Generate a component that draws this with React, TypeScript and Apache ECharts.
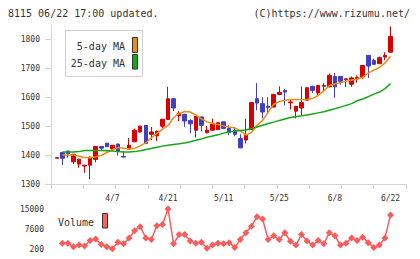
import React, { useEffect, useRef } from "react";
import * as echarts from "echarts";

const dates = [
  "3/24", "3/25", "3/28", "3/29", "3/30", "3/31", "4/1", "4/4", "4/5", "4/6",
  "4/7", "4/8", "4/11", "4/12", "4/13", "4/14", "4/15", "4/18", "4/19", "4/20",
  "4/21", "4/22", "4/25", "4/26", "4/27", "4/28", "5/2", "5/6", "5/9", "5/10",
  "5/11", "5/12", "5/13", "5/16", "5/17", "5/18", "5/19", "5/20", "5/23", "5/24",
  "5/25", "5/26", "5/27", "5/30", "5/31", "6/1", "6/2", "6/3", "6/6", "6/7",
  "6/8", "6/9", "6/10", "6/13", "6/14", "6/15", "6/16", "6/17", "6/20", "6/21",
  "6/22",
];

const dateLabels = ["4/7", "4/21", "5/11", "5/25", "6/8", "6/22"];

// [open, close, low, high]
const candles = [
  [1389, 1391, 1389, 1391],
  [1409, 1389, 1366, 1410],
  [1414, 1405, 1391, 1415],
  [1377, 1403, 1369, 1404],
  [1369, 1386, 1356, 1387],
  [1362, 1365, 1339, 1366],
  [1365, 1393, 1317, 1394],
  [1385, 1430, 1375, 1431],
  [1430, 1424, 1416, 1431],
  [1441, 1429, 1428, 1442],
  [1421, 1434, 1420, 1435],
  [1438, 1414, 1398, 1440],
  [1395, 1393, 1393, 1414],
  [1421, 1434, 1420, 1459],
  [1446, 1486, 1445, 1492],
  [1480, 1500, 1478, 1502],
  [1503, 1440, 1438, 1504],
  [1472, 1480, 1452, 1497],
  [1467, 1483, 1449, 1484],
  [1500, 1524, 1494, 1525],
  [1523, 1595, 1522, 1636],
  [1595, 1563, 1552, 1597],
  [1536, 1544, 1517, 1552],
  [1541, 1518, 1498, 1543],
  [1520, 1508, 1475, 1524],
  [1486, 1534, 1461, 1536],
  [1532, 1503, 1483, 1534],
  [1477, 1486, 1476, 1501],
  [1486, 1507, 1485, 1526],
  [1488, 1512, 1487, 1514],
  [1515, 1492, 1490, 1516],
  [1492, 1478, 1469, 1503],
  [1486, 1472, 1465, 1497],
  [1457, 1425, 1424, 1472],
  [1452, 1469, 1440, 1526],
  [1488, 1582, 1487, 1583],
  [1595, 1580, 1555, 1649],
  [1578, 1549, 1527, 1600],
  [1569, 1564, 1544, 1600],
  [1566, 1610, 1565, 1612],
  [1610, 1617, 1607, 1638],
  [1624, 1618, 1572, 1628],
  [1581, 1584, 1558, 1592],
  [1552, 1569, 1527, 1570],
  [1563, 1582, 1538, 1638],
  [1590, 1633, 1589, 1635],
  [1638, 1624, 1615, 1639],
  [1615, 1641, 1607, 1642],
  [1638, 1641, 1621, 1649],
  [1636, 1676, 1635, 1682],
  [1672, 1636, 1598, 1684],
  [1672, 1655, 1644, 1673],
  [1661, 1664, 1636, 1665],
  [1645, 1667, 1636, 1672],
  [1664, 1668, 1651, 1676],
  [1670, 1710, 1664, 1711],
  [1745, 1708, 1667, 1746],
  [1727, 1714, 1713, 1733],
  [1716, 1737, 1715, 1741],
  [1739, 1745, 1728, 1756],
  [1756, 1810, 1755, 1845],
];

const ma5 = [
  null, 1400, 1400, 1400, 1396, 1392, 1391, 1394, 1399, 1409,
  1419, 1426, 1424, 1421, 1423, 1432, 1442, 1460, 1475, 1490,
  1502, 1530, 1544, 1551, 1549, 1538, 1525, 1515, 1509, 1506,
  1501, 1497, 1494, 1484, 1469, 1478, 1503, 1520, 1548, 1576,
  1585, 1590, 1592, 1592, 1591, 1592, 1596, 1606, 1622, 1641,
  1646, 1651, 1655, 1660, 1662, 1670, 1684, 1694, 1703, 1718,
  1742,
];

const ma25 = [
  null, 1411, 1411, 1411, 1412, 1416, 1416, 1416, 1416, 1415,
  1414, 1412, 1411, 1411, 1412, 1415, 1419, 1423, 1427, 1431,
  1434, 1437, 1439, 1442, 1446, 1451, 1456, 1462, 1466, 1470,
  1476, 1480, 1483, 1485, 1487, 1492, 1497, 1503, 1509, 1514,
  1520, 1525, 1530, 1533, 1536, 1539, 1542, 1546, 1550, 1555,
  1560, 1566, 1572, 1578, 1588, 1594, 1602, 1611, 1618, 1630,
  1647,
];

const volume = [
  null, 2300, 2300, 1050, 1650, 1300, 3300, 3900, 1900, 1050,
  300, 2700, 2100, 4300, 6970, 8450, 4300, 3700, 8800, 9300,
  15000, 2100, 5600, 5600, 3200, 2300, 2700, 450, 1650, 2300,
  2100, 2550, 800, 3700, 6200, 8650, 12150, 11300, 3700, 5100,
  3700, 6200, 3050, 1650, 5600, 3200, 1650, 3300, 2100, 6200,
  5100, 1650, 2300, 4300, 3300, 4550, 2550, 800, 1650, 4300,
  12800,
];

const priceTicks = [1300, 1400, 1500, 1600, 1700, 1800];

const MONO = '"DejaVu Sans Mono", monospace';
const AX = "#d4d4d4";
const RED = "#d80000";
const BLUE = "#3f3fbf";
const ORANGE = "#f08a12";
const GREEN = "#14a814";
const VOL = "#fa5c5c";
const TXT = "#333333";

export default function App() {
  const ref = useRef<HTMLDivElement>(null);
  useEffect(() => {
    if (!ref.current) return;
    const chart = echarts.init(ref.current, undefined, { renderer: "svg" });
    const option: any = {
      animation: false,
      backgroundColor: "#ffffff",
      grid: [
        { left: 51, top: 25, width: 355, height: 159 },
        { left: 54, top: 25, width: 339.3, height: 159 },
        { left: 54, top: 209, width: 339.3, height: 40 },
      ],
      xAxis: [
        {
          gridIndex: 0,
          type: "value",
          min: 0,
          max: 11,
          interval: 1,
          axisLine: { show: true, lineStyle: { color: AX, width: 1 } },
          axisTick: { show: true, length: 5, lineStyle: { color: AX } },
          axisLabel: { show: false },
          splitLine: { show: false },
        },
        {
          gridIndex: 1,
          type: "category",
          data: dates,
          boundaryGap: true,
          axisLine: { show: false },
          axisTick: { show: false },
          splitLine: { show: false },
          axisLabel: {
            interval: (_i: number, v: string) => dateLabels.includes(v),
            margin: 10,
            fontFamily: MONO,
            fontSize: 8,
            color: TXT,
          },
        },
        {
          gridIndex: 2,
          type: "category",
          data: dates,
          boundaryGap: true,
          show: false,
        },
      ],
      yAxis: [
        {
          gridIndex: 0,
          type: "value",
          min: 1300,
          max: 1850,
          axisLine: { show: true, lineStyle: { color: AX, width: 1 } },
          axisTick: {
            show: true,
            length: 6,
            customValues: priceTicks,
            lineStyle: { color: AX },
          },
          axisLabel: {
            customValues: priceTicks,
            margin: 11,
            fontFamily: MONO,
            fontSize: 8,
            color: TXT,
            formatter: (v: number) => (v % 100 === 0 && v <= 1800 ? String(v) : ""),
          },
          splitLine: { show: false },
        },
        { gridIndex: 1, type: "value", min: 1300, max: 1850, show: false },
        {
          gridIndex: 2,
          type: "value",
          min: 200,
          max: 15000,
          interval: 7400,
          axisLine: { show: false },
          axisTick: { show: false },
          splitLine: { show: false },
          axisLabel: {
            margin: 10,
            fontFamily: MONO,
            fontSize: 8,
            color: TXT,
            formatter: (v: number) => String(v),
          },
        },
      ],
      series: [
        {
          type: "candlestick",
          xAxisIndex: 1,
          yAxisIndex: 1,
          data: candles,
          barWidth: 4,
          itemStyle: {
            color: RED,
            color0: BLUE,
            borderColor: RED,
            borderColor0: BLUE,
            borderWidth: 1,
          },
        },
        {
          type: "line",
          xAxisIndex: 1,
          yAxisIndex: 1,
          data: ma5,
          showSymbol: false,
          lineStyle: { color: ORANGE, width: 1.5 },
          z: 3,
        },
        {
          type: "line",
          xAxisIndex: 1,
          yAxisIndex: 1,
          data: ma25,
          showSymbol: false,
          lineStyle: { color: GREEN, width: 1.5 },
          z: 3,
        },
        {
          type: "line",
          xAxisIndex: 2,
          yAxisIndex: 2,
          data: volume,
          symbol: "diamond",
          symbolSize: 7,
          showSymbol: true,
          showAllSymbol: true,
          lineStyle: { color: VOL, width: 1.5 },
          itemStyle: { color: VOL },
        },
      ],
      graphic: [
        {
          type: "text",
          x: 8,
          y: 13,
          style: {
            text: "8115 06/22 17:00 updated.",
            fontFamily: MONO,
            fontSize: 10,
            fill: TXT,
            align: "left",
            verticalAlign: "middle",
          },
        },
        {
          type: "text",
          x: 410,
          y: 13,
          style: {
            text: "(C)https://www.rizumu.net/",
            fontFamily: MONO,
            fontSize: 10,
            fill: TXT,
            align: "right",
            verticalAlign: "middle",
          },
        },
        {
          type: "rect",
          shape: { x: 65.5, y: 30.5, width: 77, height: 46 },
          style: { fill: "#ffffff", stroke: "#d0d0d0", lineWidth: 1 },
          z: 10,
        },
        {
          type: "text",
          x: 125,
          y: 46,
          z: 11,
          style: {
            text: "5-day MA",
            fontFamily: MONO,
            fontSize: 10,
            fill: TXT,
            align: "right",
            verticalAlign: "middle",
          },
        },
        {
          type: "text",
          x: 125,
          y: 63,
          z: 11,
          style: {
            text: "25-day MA",
            fontFamily: MONO,
            fontSize: 10,
            fill: TXT,
            align: "right",
            verticalAlign: "middle",
          },
        },
        {
          type: "rect",
          z: 11,
          shape: { x: 132.5, y: 37.5, width: 5, height: 15 },
          style: { fill: ORANGE, stroke: "#333", lineWidth: 1 },
        },
        {
          type: "rect",
          z: 11,
          shape: { x: 132.5, y: 54.5, width: 5, height: 14.5 },
          style: { fill: GREEN, stroke: "#333", lineWidth: 1 },
        },
        {
          type: "text",
          x: 58,
          y: 222,
          z: 11,
          style: {
            text: "Volume",
            fontFamily: MONO,
            fontSize: 10,
            fill: TXT,
            align: "left",
            verticalAlign: "middle",
          },
        },
        {
          type: "rect",
          z: 11,
          shape: { x: 102.5, y: 213.5, width: 5, height: 14.5 },
          style: { fill: "#ff6060", stroke: "#333", lineWidth: 1 },
        },
      ],
    };
    chart.setOption(option);
    return () => chart.dispose();
  }, []);
  return (
    <div
      ref={ref}
      style={{ position: "fixed", left: 0, top: 0, width: 420, height: 259, background: "#fff" }}
    />
  );
}
